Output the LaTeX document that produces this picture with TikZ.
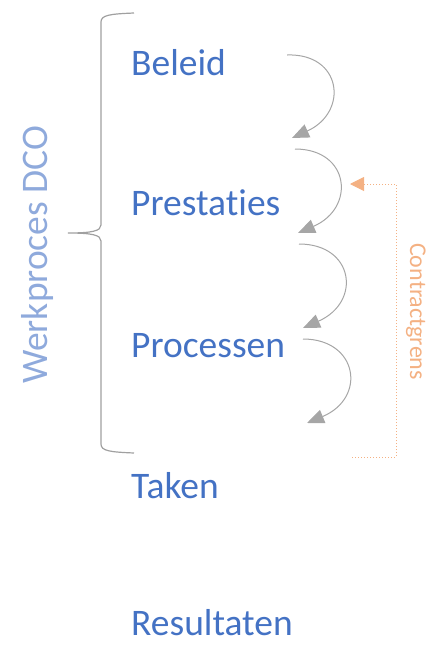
\documentclass[tikz,border=0pt]{standalone}
\usepackage{fontspec}
\setmainfont[Ligatures=NoCommon]{Carlito}
\usetikzlibrary{arrows.meta}
\definecolor{txtblue}{HTML}{4472C4}
\definecolor{lightblue}{HTML}{8FAADC}
\definecolor{lightorange}{HTML}{F4B183}
\definecolor{arcgray}{HTML}{A6A6A6}
\definecolor{bracegray}{HTML}{A0A0A0}
\tikzset{
  level/.style={anchor=base west, inner sep=0pt, text=txtblue, font=\fontsize{37.5}{40}\selectfont},
  flowarc/.style={draw=arcgray, line width=1pt, -{Triangle[length=17pt,width=14pt]}},
  bracestyle/.style={draw=bracegray, line width=1.2pt},
  grens/.style={draw=lightorange, line width=1pt, dotted, -{Triangle[length=14pt,width=14pt]}}
}
\begin{document}
\begin{tikzpicture}[x=1pt,y=-1pt]
\useasboundingbox (0,0) rectangle (427,645);
% level texts
\node[level] (beleid) at (131,75) {Beleid};
\node[level] (prest) at (131,215) {Prestaties};
\node[level] (proc) at (131,357) {Processen};
\node[level] (taken) at (131,498) {Taken};
\node[level] (res) at (131,635) {Resultaten};
% side labels
\node[anchor=base west, inner sep=0pt, rotate=90, text=lightblue, font=\fontsize{37.5}{40}\selectfont] (werk) at (47,384) {Werkproces DCO};
\node[anchor=base west, inner sep=0pt, rotate=-90, text=lightorange, font=\fontsize{24}{28}\selectfont] (contract) at (410,243) {Contractgrens};
% brace
\coordinate (bt) at (134,13);
\coordinate (bm) at (68,233);
\coordinate (bb) at (134,453);
\draw[bracestyle] (bt) .. controls (110,14) and (101,15) .. (101,22) -- (101,225)
  .. controls (101,231) and (92,233) .. (bm)
  .. controls (92,233) and (101,235) .. (101,241) -- (101,444)
  .. controls (101,451) and (110,452) .. (bb);
% arcs
\coordinate (a1s) at (287,55);  \coordinate (a1e) at (292,138);
\coordinate (a2s) at (295,149); \coordinate (a2e) at (298,233);
\coordinate (a3s) at (299,244); \coordinate (a3e) at (303,328);
\coordinate (a4s) at (303,339); \coordinate (a4e) at (307,423);
\draw[flowarc] (a1s) .. controls (342,53) and (349,112) .. (a1e);
\draw[flowarc] (a2s) .. controls (350,149) and (356,208) .. (a2e);
\draw[flowarc] (a3s) .. controls (354,244) and (362,302) .. (a3e);
\draw[flowarc] (a4s) .. controls (358,339) and (367,398) .. (a4e);
% contract boundary
\coordinate (cb) at (352,457);
\coordinate (ct) at (350,184);
\draw[grens] (cb) -- (396,457) -- (396,184) -- (ct);
\end{tikzpicture}
\end{document}
